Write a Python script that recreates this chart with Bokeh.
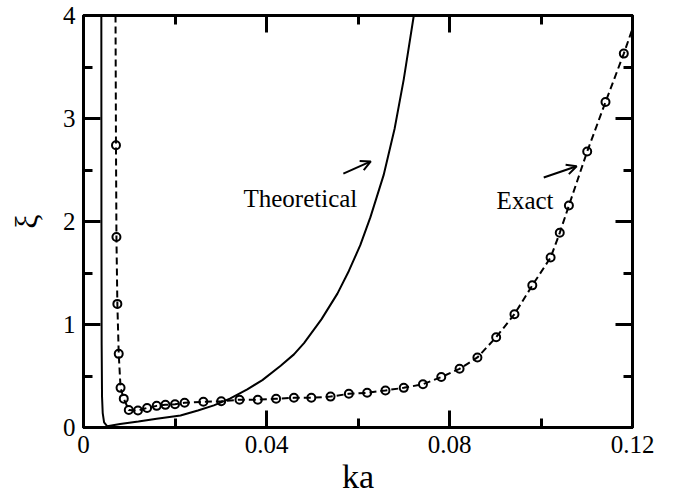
from bokeh.plotting import figure
from bokeh.models import (FixedTicker, LinearAxis, Label, Arrow, OpenHead, Range1d,
                          CustomLabelingPolicy)
from bokeh.embed import file_html
from bokeh.resources import INLINE

# Exact solution (sampled points)
exact_ka = [0.0071, 0.0072, 0.0074, 0.0077, 0.0081, 0.0088, 0.0099, 0.0119, 0.0139,
            0.0160, 0.0179, 0.0200, 0.0221, 0.0262, 0.0301, 0.0341, 0.0381, 0.0421,
            0.0460, 0.0498, 0.0540, 0.0580, 0.0620, 0.0660, 0.0700, 0.0742, 0.0782,
            0.0822, 0.0861, 0.0902, 0.0942, 0.0981, 0.1021, 0.1041, 0.1061, 0.1101,
            0.1141, 0.1181]
exact_xi = [2.74, 1.85, 1.20, 0.715, 0.385, 0.28, 0.17, 0.165, 0.19,
            0.21, 0.22, 0.226, 0.24, 0.25, 0.255, 0.27, 0.27, 0.279,
            0.288, 0.288, 0.30, 0.327, 0.337, 0.36, 0.385, 0.42, 0.49,
            0.57, 0.68, 0.877, 1.10, 1.38, 1.65, 1.89, 2.155, 2.68,
            3.16, 3.63]
# dashed curve continues past the first and last samples
exact_start_ka, exact_start_xi = 0.0070, 4.0
exact_end_ka, exact_end_xi = 0.1210, 4.0

# Theoretical prediction
theo_ka = [0.0039, 0.00392, 0.00397, 0.00405, 0.0042, 0.0045, 0.0052, 0.0080, 0.0120,
           0.0160, 0.0212, 0.0250, 0.0285, 0.0320, 0.0358, 0.0391, 0.0431, 0.0460,
           0.0482, 0.0520, 0.0555, 0.0580, 0.0605, 0.0627, 0.0656, 0.0680, 0.0700,
           0.0722]
theo_xi = [4.0, 2.0, 0.80, 0.30, 0.14, 0.05, 0.012, 0.035, 0.058,
           0.085, 0.117, 0.165, 0.215, 0.28, 0.37, 0.46, 0.60, 0.71,
           0.82, 1.05, 1.30, 1.52, 1.77, 2.04, 2.45, 2.90, 3.38,
           4.0]

x_ticks = [0, 0.04, 0.08, 0.12]
x_tick_labels = ["0", "0.04", "0.08", "0.12"]
x_minor = [0.02, 0.06, 0.10]
y_ticks = [0, 1, 2, 3, 4]
y_minor = [0.5, 1.5, 2.5, 3.5]

SERIF = "Liberation Serif"

p = figure(width=673, height=499, output_backend="svg", toolbar_location=None,
           x_range=Range1d(0, 0.12), y_range=Range1d(0, 4),
           min_border_left=83, min_border_right=41, min_border_top=15,
           min_border_bottom=72, x_axis_label="ka", y_axis_label="ξ")
p.grid.visible = False
p.outline_line_color = "black"
p.outline_line_width = 3
p.background_fill_color = "white"
p.border_fill_color = "white"

# mirrored axes carry ticks only
no_labels = CustomLabelingPolicy(code="return new indices.constructor(indices.size)")

def style_axis(ax, ticks, minor, show_labels):
    ax.ticker = FixedTicker(ticks=ticks, minor_ticks=minor)
    ax.axis_line_width = 3
    ax.axis_line_color = "black"
    ax.major_tick_in = 17
    ax.major_tick_out = 0
    ax.minor_tick_in = 9
    ax.minor_tick_out = 0
    ax.major_tick_line_width = 3
    ax.minor_tick_line_width = 3
    ax.major_label_text_font = SERIF
    ax.major_label_text_color = "black"
    if show_labels:
        ax.major_label_text_font_size = "25px"
        ax.major_label_standoff = 8
    else:
        ax.major_label_text_font_size = "0px"
        ax.major_label_standoff = 0
        ax.major_label_policy = no_labels

style_axis(p.xaxis[0], x_ticks, x_minor, True)
style_axis(p.yaxis[0], y_ticks, y_minor, True)
p.xaxis[0].major_label_overrides = {t: s for t, s in zip(x_ticks, x_tick_labels)}
p.xaxis[0].axis_label_text_font = SERIF
p.xaxis[0].axis_label_text_font_size = "34px"
p.xaxis[0].axis_label_text_font_style = "normal"
p.xaxis[0].axis_label_text_color = "black"
p.xaxis[0].axis_label_standoff = 2
p.yaxis[0].axis_label_text_font = SERIF
p.yaxis[0].axis_label_text_font_size = "32px"
p.yaxis[0].axis_label_text_font_style = "normal"
p.yaxis[0].axis_label_text_color = "black"
p.yaxis[0].axis_label_standoff = 16

top = LinearAxis()
style_axis(top, x_ticks, x_minor, False)
p.add_layout(top, "above")
right = LinearAxis()
style_axis(right, y_ticks, y_minor, False)
p.add_layout(right, "right")

# theoretical curve
p.line(theo_ka, theo_xi, line_color="black", line_width=2)

# exact curve: dashed line with open circle markers
p.line([exact_start_ka] + exact_ka + [exact_end_ka],
       [exact_start_xi] + exact_xi + [exact_end_xi],
       line_color="black", line_width=2, line_dash="7 4")
p.scatter(exact_ka, exact_xi, marker="circle", size=8, fill_color=None,
          line_color="black", line_width=2)

p.add_layout(Label(x=0.03497, y=2.223, text="Theoretical", text_font=SERIF,
                   text_font_size="25px", text_color="black",
                   text_baseline="alphabetic"))
p.add_layout(Label(x=0.0903, y=2.204, text="Exact", text_font=SERIF,
                   text_font_size="25px", text_color="black",
                   text_baseline="alphabetic"))
p.add_layout(Arrow(x_start=0.0568, y_start=2.464, x_end=0.0628, y_end=2.583,
                   line_width=2, end=OpenHead(size=10, line_width=2)))
p.add_layout(Arrow(x_start=0.1006, y_start=2.427, x_end=0.1078, y_end=2.537,
                   line_width=2, end=OpenHead(size=10, line_width=2)))

open("out.html", "w").write(file_html(p, INLINE))
